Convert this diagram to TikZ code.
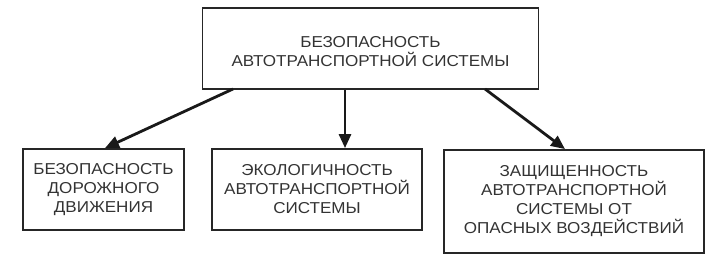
\documentclass[tikz,border=0pt]{standalone}
\usepackage{fontspec}
\setmainfont{Liberation Sans}[FakeStretch=1.08]
\usetikzlibrary{arrows.meta}
\begin{document}
\begin{tikzpicture}[x=1pt,y=-1pt,
  box/.style={draw=black!85,line width=1.8pt,inner sep=0pt,align=center,text=black!80,
    font=\fontsize{15.8}{19}\selectfont},
  arr/.style={line width=2.8pt,draw=black!90,-{Triangle[length=14pt,width=12pt]}}]
\useasboundingbox (0,0) rectangle (720,264);
\node[box,minimum width=336pt,minimum height=81pt] (top) at (370.5,48.5) {\rule{0pt}{17pt}БЕЗОПАСНОСТЬ\\АВТОТРАНСПОРТНОЙ СИСТЕМЫ};
\node[box,minimum width=161pt,minimum height=81pt] (a) at (103.5,189.5) {БЕЗОПАСНОСТЬ\\ДОРОЖНОГО\\ДВИЖЕНИЯ};
\node[box,minimum width=210pt,minimum height=81pt] (b) at (317,189.5) {ЭКОЛОГИЧНОСТЬ\\АВТОТРАНСПОРТНОЙ\\СИСТЕМЫ};
\node[box,minimum width=260pt,minimum height=103pt] (c) at (574,201.5) {ЗАЩИЩЕННОСТЬ\\АВТОТРАНСПОРТНОЙ\\СИСТЕМЫ ОТ\\ОПАСНЫХ ВОЗДЕЙСТВИЙ};
\draw[arr] (233,89) -- (a.north -| 105,0);
\draw[arr] (top.south -| 345,0) -- (b.north -| 345,0);
\draw[arr] (485,89) -- (c.north -| 565,0);
\end{tikzpicture}
\end{document}
